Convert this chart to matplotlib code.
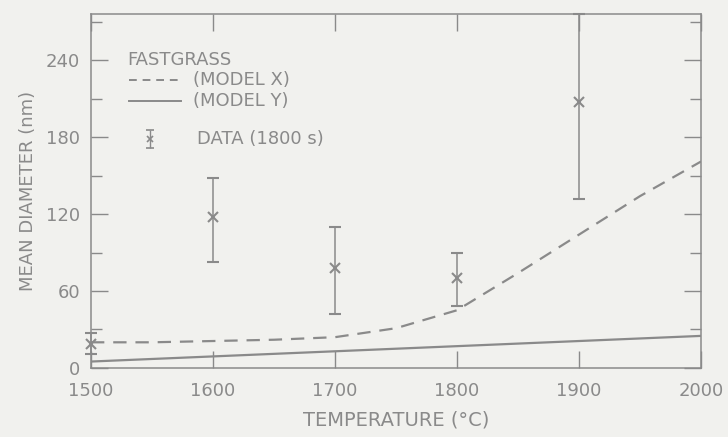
import matplotlib.pyplot as plt
from matplotlib.ticker import MultipleLocator

# measured data (x markers with error bars)
data_temp = [1500, 1600, 1700, 1800, 1900]
data_mean = [19, 118, 78, 70, 207]
data_low = [11, 83, 42, 48, 132]
data_high = [27, 148, 110, 90, 276]

# FASTGRASS model curves
model_temp = [1500, 1550, 1600, 1650, 1700, 1750, 1800, 1850, 1900, 1950, 2000]
model_x = [20, 20, 21, 22, 24, 31, 45, 74, 104, 134, 161]
model_y = [5, 7, 9, 11, 13, 15, 17, 19, 21, 23, 25]

ink = '#8a8a8a'
bg = '#f1f1ee'

plt.rcParams['font.family'] = ['DejaVu Sans']
fig = plt.figure(figsize=(7.28, 4.37), dpi=100, facecolor=bg)
ax = fig.add_axes([0.125, 0.158, 0.838, 0.81], facecolor=bg)

ax.plot(model_temp, model_x, color=ink, lw=1.6, ls=(0, (6, 4)))
ax.plot(model_temp, model_y, color=ink, lw=1.6)

yerr = [[m - l for m, l in zip(data_mean, data_low)],
        [h - m for m, h in zip(data_mean, data_high)]]
eb = ax.errorbar(data_temp, data_mean, yerr=yerr, fmt='x', color=ink, ms=7, mew=1.5,
                 elinewidth=1.1, capsize=4, capthick=1.1)
for art in eb.lines[0:1] + tuple(eb.lines[1]) + tuple(eb.lines[2]):
    art.set_clip_on(False)

ax.set_xlim(1500, 2000)
ax.set_ylim(0, 276)
ax.set_xticks([1500, 1600, 1700, 1800, 1900, 2000])
ax.set_yticks([0, 60, 120, 180, 240])
ax.yaxis.set_minor_locator(MultipleLocator(30))
ax.tick_params(axis='both', which='major', direction='in', length=12, width=1,
               color=ink, labelcolor=ink, labelsize=13, top=True, right=True)
ax.tick_params(axis='x', which='major', pad=10)
ax.tick_params(axis='y', which='major', pad=8)
ax.tick_params(axis='y', which='minor', direction='in', length=8, width=1,
               color=ink, right=True)
for s in ax.spines.values():
    s.set_color(ink)
    s.set_linewidth(1.1)

ax.set_xlabel('TEMPERATURE (°C)', color=ink, fontsize=14, labelpad=8)
ax.set_ylabel('MEAN DIAMETER (nm)', color=ink, fontsize=13, labelpad=6)

# hand-drawn style legend
tr = ax.transAxes
ax.text(0.059, 0.870, 'FASTGRASS', transform=tr, color=ink, fontsize=13, va='center')
ax.plot([0.062, 0.147], [0.814, 0.814], transform=tr, color=ink, lw=1.4, ls=(0, (4, 3)))
ax.text(0.167, 0.814, '(MODEL X)', transform=tr, color=ink, fontsize=13, va='center')
ax.plot([0.062, 0.147], [0.754, 0.754], transform=tr, color=ink, lw=1.4)
ax.text(0.167, 0.754, '(MODEL Y)', transform=tr, color=ink, fontsize=13, va='center')
ax.errorbar([0.097], [0.647], yerr=[[0.025], [0.025]], fmt='x', transform=tr, color=ink,
            ms=5, mew=1.2, elinewidth=1, capsize=3)
ax.text(0.174, 0.647, 'DATA (1800 s)', transform=tr, color=ink, fontsize=13, va='center')

fig.savefig('out.png', dpi=100, facecolor=bg)
